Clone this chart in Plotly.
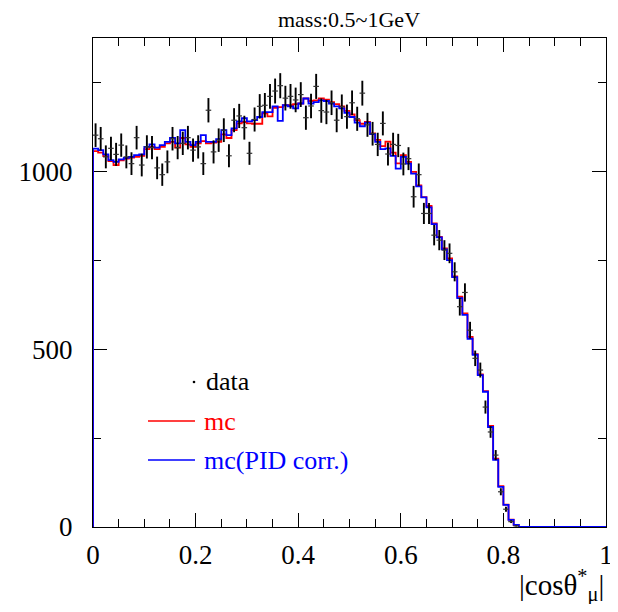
import numpy as np
import plotly.graph_objects as go

# ---- data (100 bins of |cos theta*_mu| from 0 to 1) ----
bin_lo = 0.0
bin_hi = 1.0
n_bins = 100

data_counts = [
    1101, 1091, 1040, 1064, 1047, 1073, 1040, 1021, 1094, 1017,
    1068, 1066, 1009, 990, 1026, 1091, 1066, 1078, 1094, 1059,
    1068, 1021, 1171, 1054, 1087, 1115, 1043, 1143, 1155, 1122,
    1050, 1145, 1182, 1185, 1210, 1225, 1240, 1205, 1210, 1200,
    1215, 1150, 1183, 1238, 1170, 1166, 1192, 1143, 1181, 1153,
    1192, 1147, 1219, 1130, 1105, 1075, 1134, 1048, 1075, 1072,
    1020, 1035, 928, 990, 881, 881, 820, 806, 778, 769,
    717, 619, 659, 553, 474, 441, 337, 267, 202, 99,
    50, 15, 3, 0, 0, 0, 0, 0, 0, 0,
    0, 0, 0, 0, 0, 0, 0, 0, 0, 0,
]

mc_counts = [
    1056, 1052, 1042, 1028, 1017, 1030, 1035, 1038, 1040, 1043,
    1062, 1068, 1062, 1068, 1078, 1082, 1066, 1093, 1075, 1068,
    1078, 1084, 1078, 1080, 1082, 1103, 1093, 1115, 1134, 1138,
    1134, 1133, 1133, 1162, 1154, 1178, 1180, 1185, 1185, 1188,
    1190, 1204, 1197, 1199, 1204, 1201, 1194, 1188, 1182, 1169,
    1159, 1143, 1133, 1138, 1106, 1088, 1070, 1083, 1052, 1022,
    1045, 1026, 998, 960, 927, 902, 853, 815, 783, 755,
    704, 647, 600, 534, 486, 429, 382, 284, 192, 115,
    63, 21, 6, 0, 0, 0, 0, 0, 0, 0,
    0, 0, 0, 0, 0, 0, 0, 0, 0, 0,
]

mc_pid_counts = [
    1063, 1059, 1047, 1031, 1026, 1033, 1037, 1040, 1045, 1047,
    1068, 1075, 1066, 1073, 1082, 1093, 1078, 1115, 1082, 1073,
    1082, 1101, 1082, 1082, 1090, 1115, 1101, 1120, 1140, 1149,
    1140, 1143, 1152, 1166, 1166, 1182, 1141, 1185, 1182, 1176,
    1190, 1204, 1190, 1194, 1199, 1197, 1190, 1182, 1176, 1164,
    1152, 1136, 1126, 1136, 1104, 1082, 1062, 1064, 1043, 1007,
    1040, 1021, 993, 957, 926, 898, 851, 814, 780, 750,
    702, 643, 596, 529, 484, 427, 380, 281, 189, 113,
    62, 20, 6, 0, 0, 0, 0, 0, 0, 0,
    0, 0, 0, 0, 0, 0, 0, 0, 0, 0,
]

x_tick_vals = [0, 0.2, 0.4, 0.6, 0.8, 1]
x_tick_text = ["0", "0.2", "0.4", "0.6", "0.8", "1"]
y_tick_vals = [0, 500, 1000]
y_tick_text = ["0", "500", "1000"]

title_text = "mass:0.5~1GeV"
x_title = "|cosθ<sup>*</sup><sub>μ</sub>|"
legend_labels = ["data", "mc", "mc(PID corr.)"]

# ---- derived ----
edges = np.linspace(bin_lo, bin_hi, n_bins + 1)
centers = 0.5 * (edges[:-1] + edges[1:])

FONT = "Liberation Serif"
RED = "#ff0000"
BLUE = "#0000ff"


def step_xy(vals):
    v = np.asarray(vals, dtype=float)
    xs = np.concatenate([[edges[0]], edges])
    ys = np.concatenate([[0.0], v, [v[-1]]])
    return xs, ys


fig = go.Figure()

xr, yr = step_xy(mc_counts)
fig.add_trace(go.Scatter(x=xr, y=yr, mode="lines", line=dict(color=RED, width=1.8, shape="hv"),
                         showlegend=False, hoverinfo="skip"))
xb, yb = step_xy(mc_pid_counts)
fig.add_trace(go.Scatter(x=xb, y=yb, mode="lines", line=dict(color=BLUE, width=1.8, shape="hv"),
                         showlegend=False, hoverinfo="skip"))

d = np.asarray(data_counts, dtype=float)
mask = d > 0
fig.add_trace(go.Scatter(
    x=centers[mask], y=d[mask], mode="markers",
    marker=dict(symbol="line-ew", size=4, color="black", line=dict(color="#333333", width=1.2)),
    error_y=dict(type="data", array=np.sqrt(d[mask]), color="black", thickness=1.9, width=0),
    showlegend=False, hoverinfo="skip"))

axis_common = dict(
    showline=True, linecolor="black", linewidth=1.3, mirror="ticks",
    ticks="inside", ticklen=14, tickwidth=1.3, tickcolor="black",
    showgrid=False, zeroline=False, layer="below traces", automargin=False,
    tickfont=dict(family=FONT, size=27, color="black"),
)

fig.update_xaxes(range=[0, 1], tickvals=x_tick_vals, ticktext=x_tick_text,
                 minor=dict(dtick=0.05, ticks="inside", ticklen=8, tickwidth=1.3, tickcolor="black", showgrid=False),
                 ticklabelstandoff=3, **axis_common)
fig.update_yaxes(range=[0, 1374], tickvals=y_tick_vals, ticktext=y_tick_text,
                 minor=dict(dtick=250, ticks="inside", ticklen=8, tickwidth=1.3, tickcolor="black", showgrid=False),
                 ticklabelstandoff=14, **axis_common)

# page has an 8px body margin; figure sized so that the page fits the window
OFF = 8
W, H = 610, 596
PL, PR, PT, PB = 93, 606, 38, 527  # plot-area edges in page pixels
ML, MT = PL - OFF, PT - OFF
MR = W - (PR - OFF)
MB = H - (PB - OFF)
pw, ph = PR - PL, PB - PT


def px(xp):
    return (xp - PL) / pw


def py(yp):
    return 1 - (yp - PT) / ph


annotations = [
    dict(text=x_title, x=1.0, y=py(585), xref="paper", yref="paper", xanchor="right", yanchor="middle",
         showarrow=False, font=dict(family=FONT, size=29, color="black")),
    dict(text=legend_labels[0], x=px(204), y=py(381), xref="paper", yref="paper", xanchor="left",
         yanchor="middle", showarrow=False, font=dict(family=FONT, size=26, color="black")),
    dict(text=legend_labels[1], x=px(202), y=py(421), xref="paper", yref="paper", xanchor="left",
         yanchor="middle", showarrow=False, font=dict(family=FONT, size=26, color=RED)),
    dict(text=legend_labels[2], x=px(202), y=py(460), xref="paper", yref="paper", xanchor="left",
         yanchor="middle", showarrow=False, font=dict(family=FONT, size=26, color=BLUE)),
]

shapes = [
    dict(type="line", xref="paper", yref="paper", x0=px(148), x1=px(195), y0=py(421), y1=py(421),
         line=dict(color=RED, width=1.6)),
    dict(type="line", xref="paper", yref="paper", x0=px(148), x1=px(195), y0=py(460), y1=py(460),
         line=dict(color=BLUE, width=1.6)),
    dict(type="circle", xref="paper", yref="paper", xsizemode="pixel", ysizemode="pixel",
         xanchor=px(194), yanchor=py(382), x0=-1.3, x1=1.3, y0=-1.3, y1=1.3,
         fillcolor="black", line=dict(color="black", width=0)),
]

fig.update_layout(
    width=W, height=H,
    margin=dict(l=ML, r=MR, t=MT, b=MB, autoexpand=False),
    paper_bgcolor="white", plot_bgcolor="white",
    title=dict(text=title_text, x=px(349), xref="paper", xanchor="center",
               y=1 - (19 - OFF) / H, yanchor="middle", font=dict(family=FONT, size=22, color="black")),
    annotations=annotations, shapes=shapes,
    showlegend=False,
)

fig.write_html("out.html")
